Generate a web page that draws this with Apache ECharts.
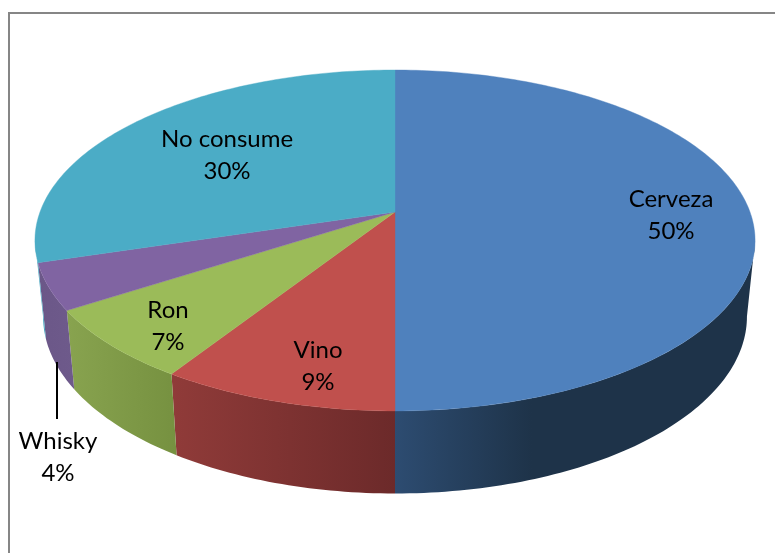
<!DOCTYPE html>
<html>
<head>
<meta charset="utf-8">
<style>html,body{margin:0;padding:0;background:#fff}#c{width:775px;height:553px}</style>
<script src="https://cdn.jsdelivr.net/npm/echarts@6/dist/echarts.min.js"></script>
</head>
<body>
<div id="c"></div>
<script>
var categories = ['Cerveza', 'Vino', 'Ron', 'Whisky', 'No consume'];
var shares = [50, 9.1, 6.8, 4.4, 29.7];

var topColors = ['#4f81bd', '#c0504d', '#9bbb59', '#8064a2', '#4bacc6'];
var wallShades = [
  [[0, '#2d4c71'], [0.38, '#1e3349'], [1, '#1e3349']],
  [[0, '#903b39'], [1, '#6c2a2a']],
  [[0, '#88a34f'], [1, '#769140']],
  [[0, '#6b5788'], [1, '#6e5a8b']],
  [[0, '#4aa6c0'], [1, '#4aa6c0']]
];
var labelCentres = [[671, 215], [318, 366], [168, 326], [58, 457], [227, 155]];

var PERSPECTIVE = 0.167;
var TOP_DISC = {y: 212, f: 355, g: 165.7};
var BOTTOM_DISC = {y: 287, f: 347, g: 172};
var CX = 395;

var total = shares.reduce(function (a, b) { return a + b; }, 0);
var starts = [];
shares.reduce(function (acc, v, i) { starts[i] = acc / total * 360; return acc + v; }, 0);

function project(disc, deg, r) {
  var t = deg * Math.PI / 180, X = r * Math.sin(t), Z = r * Math.cos(t);
  var d = 1 + PERSPECTIVE * Z;
  return [CX + disc.f * X / d, disc.y - disc.g * Z / d];
}
function arc(disc, a0, a1) {
  var out = [], n = Math.max(2, Math.ceil(Math.abs(a1 - a0)));
  for (var i = 0; i <= n; i++) out.push(project(disc, a0 + (a1 - a0) * i / n, 1));
  return out;
}
var silhouette = Math.acos(-PERSPECTIVE) * 180 / Math.PI;

function renderWall(params, api) {
  var i = params.dataIndex, a0 = starts[i], a1 = a0 + api.value(1) / total * 360;
  a0 = Math.max(a0, silhouette); a1 = Math.min(a1, 360 - silhouette);
  if (a1 <= a0) return {type: 'group', children: []};
  var pts = arc(TOP_DISC, a0, a1).concat(arc(BOTTOM_DISC, a1, a0));
  var xs = pts.map(function (p) { return p[0]; });
  var stops = wallShades[i].map(function (s) { return {offset: s[0], color: s[1]}; });
  return {
    type: 'polygon',
    shape: {points: pts},
    style: {fill: {type: 'linear', x: Math.min.apply(null, xs), y: 0, x2: Math.max.apply(null, xs), y2: 0,
      global: true, colorStops: stops}, stroke: null}
  };
}
function renderTop(params, api) {
  var i = params.dataIndex, a0 = starts[i], a1 = a0 + api.value(1) / total * 360;
  var pts = [project(TOP_DISC, 0, 0)].concat(arc(TOP_DISC, a0, a1));
  return {
    type: 'polygon',
    shape: {points: pts},
    style: {fill: topColors[i], stroke: topColors[i], lineWidth: 0.4}
  };
}
function renderLabel(params, api) {
  var i = params.dataIndex;
  return {
    type: 'text',
    x: labelCentres[i][0], y: labelCentres[i][1],
    style: {
      text: api.value(0) + '\n' + Math.round(api.value(1)) + '%',
      font: '24px Lato, "Open Sans", sans-serif',
      fill: '#000', align: 'center', verticalAlign: 'middle', lineHeight: 32
    }
  };
}
var rows = categories.map(function (c, i) { return [c, shares[i]]; });
function customSeries(fn, z) {
  return {type: 'custom', coordinateSystem: 'none', renderItem: fn, data: rows, z: z, silent: true,
    encode: {itemName: 0, value: 1}, animation: false, clip: false};
}
var chart = echarts.init(document.getElementById('c'), null, {renderer: 'canvas'});
chart.setOption({
  animation: false,
  backgroundColor: '#fff',
  graphic: [
    {type: 'polyline', z: 1, shape: {points: [[9, 560], [9, 13], [780, 13]]}, style: {stroke: '#868686', lineWidth: 2, fill: null}},
    {type: 'line', z: 20, shape: {x1: 57, y1: 362, x2: 57, y2: 419}, style: {stroke: '#000', lineWidth: 2}}
  ],
  series: [customSeries(renderWall, 2), customSeries(renderTop, 3), customSeries(renderLabel, 4)]
});
</script>
</body>
</html>
